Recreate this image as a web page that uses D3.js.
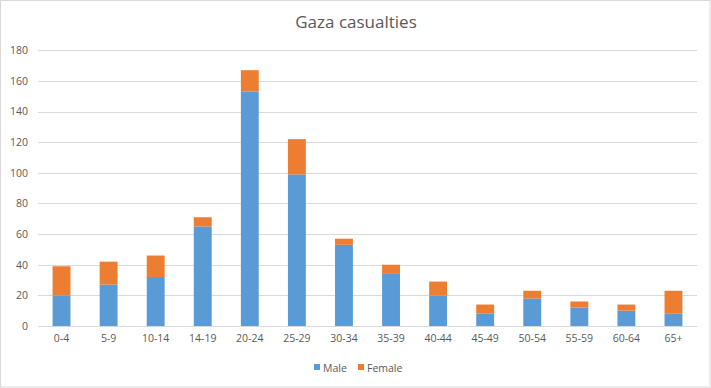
<!DOCTYPE html>
<html>
<head>
<meta charset="utf-8">
<script src="https://cdn.jsdelivr.net/npm/d3@7"></script>
<style>
  html, body { margin: 0; padding: 0; background: #fff; }
  svg { display: block; }
  text { font-family: "Open Sans", "Noto Sans", sans-serif; fill: #595959; }
</style>
</head>
<body>
<svg id="chart" width="711" height="388"></svg>
<script>
const categories = ["0-4","5-9","10-14","14-19","20-24","25-29","30-34","35-39","40-44","45-49","50-54","55-59","60-64","65+"];
const male   = [20, 27, 32, 65, 153, 99, 53, 34, 20, 8, 18, 12, 10, 8];
const female = [19, 15, 14, 6, 14, 23, 4, 6, 9, 6, 5, 4, 4, 15];
const seriesNames = ["Male", "Female"];
const colors = ["#5B9BD5", "#ED7D31"];
const yTicks = [0, 20, 40, 60, 80, 100, 120, 140, 160, 180];
const title = "Gaza casualties";

const W = 711, H = 388;
const plot = { left: 38, right: 697, top: 50.3, bottom: 326 };

const svg = d3.select("#chart");

// outer border
svg.append("rect")
  .attr("x", 0.5).attr("y", 0.5)
  .attr("width", W - 1.5).attr("height", H - 1.5)
  .attr("fill", "#fff").attr("stroke", "#D9D9D9").attr("stroke-width", 1);

const x = d3.scaleBand().domain(categories).range([plot.left, plot.right]).paddingInner(0.62).paddingOuter(0.31);
const y = d3.scaleLinear().domain([0, 180]).range([plot.bottom, plot.top]);

// gridlines
svg.append("g").selectAll("line").data(yTicks).join("line")
  .attr("x1", plot.left).attr("x2", plot.right)
  .attr("y1", d => Math.round(y(d)) + 0.5).attr("y2", d => Math.round(y(d)) + 0.5)
  .attr("stroke", "#D9D9D9").attr("stroke-width", 1);

// y axis labels
const yAxis = d3.axisLeft(y).tickValues(yTicks).tickSize(0).tickPadding(0);
const yg = svg.append("g").attr("transform", `translate(${plot.left - 10},0)`).call(yAxis);
yg.select(".domain").remove();
yg.selectAll("text").attr("font-size", 10.5).attr("fill", "#595959")
  .style("font-family", '"Open Sans", sans-serif');

// stacked bars
const data = categories.map((c, i) => ({ cat: c, Male: male[i], Female: female[i] }));
const stack = d3.stack().keys(seriesNames)(data);
svg.append("g").selectAll("g").data(stack).join("g")
  .attr("fill", (d, i) => colors[i])
  .selectAll("rect").data(d => d).join("rect")
  .attr("x", d => x(d.data.cat))
  .attr("width", x.bandwidth())
  .attr("y", d => y(d[1]))
  .attr("height", d => y(d[0]) - y(d[1]));

// x axis labels
const xAxis = d3.axisBottom(x).tickSize(0).tickPadding(0);
const xg = svg.append("g").attr("transform", `translate(0,${plot.bottom + 9})`).call(xAxis);
xg.select(".domain").remove();
xg.selectAll("text").attr("font-size", 10.5).attr("fill", "#595959")
  .style("font-family", '"Open Sans", sans-serif');

// title
svg.append("text")
  .attr("x", 356).attr("y", 28)
  .attr("text-anchor", "middle")
  .attr("font-size", 17)
  .text(title);

// legend
const legend = svg.append("g");
const legendItems = [{ name: "Male", x: 314 }, { name: "Female", x: 358 }];
legendItems.forEach((it, i) => {
  legend.append("rect").attr("x", it.x).attr("y", 364).attr("width", 6).attr("height", 6).attr("fill", colors[i]);
  legend.append("text").attr("x", it.x + 9).attr("y", 371.5).attr("font-size", 10.5).text(it.name);
});
</script>
</body>
</html>
